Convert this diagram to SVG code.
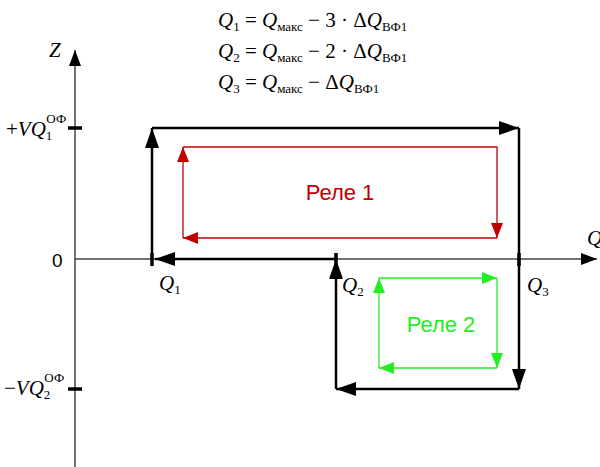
<svg xmlns="http://www.w3.org/2000/svg" width="600" height="467" viewBox="0 0 600 467">
<style>
.ax{stroke:#444;stroke-width:1.5;fill:none}
.bk{stroke:#000;stroke-width:2.5;fill:none}
.rd{stroke:#c00000;stroke-width:1.3;fill:none}
.gr{stroke:#22ee22;stroke-width:1.3;fill:none}
.tk{stroke:#000;stroke-width:3.5}
.m{font-family:"Liberation Serif",serif;font-size:21px;fill:#000}
.i{font-style:italic}
.s{font-size:13px}
.lb{font-family:"Liberation Sans",Arial,sans-serif;font-size:22px}
</style>
<defs>
<marker id="ab" markerUnits="userSpaceOnUse" markerWidth="22" markerHeight="14" refX="20" refY="7" orient="auto"><path d="M0,0 L20,7 L0,14 z" fill="#000"/></marker>
<marker id="aa" markerUnits="userSpaceOnUse" markerWidth="18" markerHeight="12" refX="16" refY="6" orient="auto"><path d="M0,0 L16,6 L0,12 z" fill="#000"/></marker>
<marker id="ar" markerUnits="userSpaceOnUse" markerWidth="18" markerHeight="12" refX="15" refY="6" orient="auto"><path d="M0,0 L15,6 L0,12 z" fill="#c00000"/></marker>
<marker id="ag" markerUnits="userSpaceOnUse" markerWidth="18" markerHeight="12" refX="15" refY="6" orient="auto"><path d="M0,0 L15,6 L0,12 z" fill="#22ee22"/></marker>
</defs>
<g id="formulas" class="m">
<text x="218" y="27"><tspan class="i">Q</tspan><tspan class="s" dy="4">1</tspan><tspan dy="-4"> = </tspan><tspan class="i">Q</tspan><tspan class="s" dy="4">макс</tspan><tspan dy="-4"> − 3 · Δ</tspan><tspan class="i">Q</tspan><tspan class="s" dy="4">ВФ1</tspan></text>
<text x="218" y="58"><tspan class="i">Q</tspan><tspan class="s" dy="4">2</tspan><tspan dy="-4"> = </tspan><tspan class="i">Q</tspan><tspan class="s" dy="4">макс</tspan><tspan dy="-4"> − 2 · Δ</tspan><tspan class="i">Q</tspan><tspan class="s" dy="4">ВФ1</tspan></text>
<text x="218" y="89"><tspan class="i">Q</tspan><tspan class="s" dy="4">3</tspan><tspan dy="-4"> = </tspan><tspan class="i">Q</tspan><tspan class="s" dy="4">макс</tspan><tspan dy="-4"> − Δ</tspan><tspan class="i">Q</tspan><tspan class="s" dy="4">ВФ1</tspan></text>
</g>
<g id="axes">
<path class="ax" d="M75,467 V50" marker-end="url(#aa)"/>
<path class="ax" d="M75,259 H597" marker-end="url(#aa)"/>
<line class="tk" x1="68" y1="128" x2="82" y2="128"/>
<line class="tk" x1="68" y1="389" x2="82" y2="389"/>
<line class="tk" x1="152" y1="253" x2="152" y2="266"/>
<line class="tk" x1="336" y1="253" x2="336" y2="266"/>
<line class="tk" x1="519" y1="253" x2="519" y2="266"/>
<text class="m i" x="49" y="57">Z</text>
<text class="m i" x="587" y="245">Q</text>
<text x="52" y="267" font-family="Liberation Sans,Arial,sans-serif" font-size="19">0</text>
<text class="m" x="6" y="136">+<tspan class="i">VQ</tspan><tspan class="s" dy="4">1</tspan><tspan class="s" dx="-6" dy="-17">ОФ</tspan></text>
<text class="m" x="4" y="395">−<tspan class="i">VQ</tspan><tspan class="s" dy="4">2</tspan><tspan class="s" dx="-6" dy="-17">ОФ</tspan></text>
<text class="m" x="159" y="290"><tspan class="i">Q</tspan><tspan class="s" dy="4">1</tspan></text>
<text class="m" x="342" y="292"><tspan class="i">Q</tspan><tspan class="s" dy="4">2</tspan></text>
<text class="m" x="527" y="292"><tspan class="i">Q</tspan><tspan class="s" dy="4">3</tspan></text>
</g>
<g id="connectors">
<path class="bk" d="M152,259 V128" marker-end="url(#ab)"/>
<path class="bk" d="M152,128 H519" marker-end="url(#ab)"/>
<path class="bk" d="M519,128 V389" marker-end="url(#ab)"/>
<path class="bk" d="M519,389 H336" marker-end="url(#ab)"/>
<path class="bk" d="M336,389 V259" marker-end="url(#ab)"/>
<path class="bk" d="M336,259 H155" marker-end="url(#ab)"/>
<path class="rd" d="M183,238 V147" marker-end="url(#ar)"/>
<path class="rd" d="M183,147 H497 V238" marker-end="url(#ar)"/>
<path class="rd" d="M497,238 H183" marker-end="url(#ar)"/>
<path class="gr" d="M379,368 V278" marker-end="url(#ag)"/>
<path class="gr" d="M379,278 H497" marker-end="url(#ag)"/>
<path class="gr" d="M497,278 V368" marker-end="url(#ag)"/>
<path class="gr" d="M497,368 H379" marker-end="url(#ag)"/>
</g>
<g id="rele1"><text class="lb" x="340" y="200" text-anchor="middle" fill="#c00000">Реле 1</text></g>
<g id="rele2"><text class="lb" x="441" y="332" text-anchor="middle" fill="#22ee22">Реле 2</text></g>
</svg>
